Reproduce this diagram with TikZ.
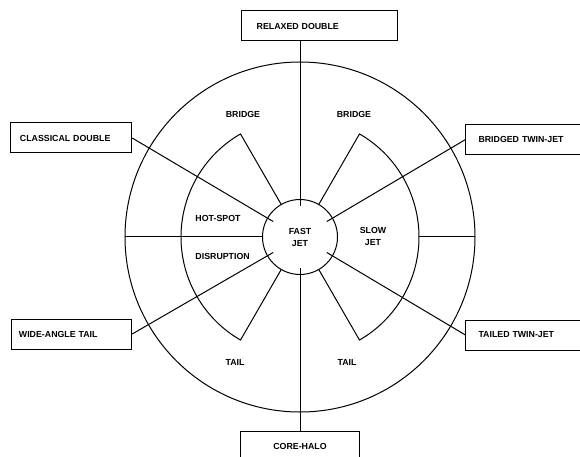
\documentclass[tikz,border=0pt]{standalone}
\usepackage{fontspec}
\setmainfont{Liberation Sans}
\usetikzlibrary{positioning}

\begin{document}
\begin{tikzpicture}[x=1pt,y=1pt,line width=1pt,
    font=\fontsize{8.8}{12}\selectfont\bfseries,
    typebox/.style={draw,minimum height=30pt,inner ysep=0pt,align=left},
    zone/.style={align=center,inner sep=0pt}]
  \useasboundingbox (-300,-220) rectangle (280,237);

  % outer ring, lobes and dividers
  \draw (0,0) circle[radius=175];
  \draw (120:37) -- (120:119) arc[start angle=120,end angle=240,radius=119] -- (240:37);
  \draw (60:37) -- (60:119) arc[start angle=60,end angle=-60,radius=119] -- (-60:37);
  \draw (180:175) -- (180:37);
  \draw (0:119) -- (0:175);

  \node[draw,circle,minimum size=75pt,inner sep=0pt,align=center] (fast) at (0,0) {FAST\\JET};

  \coordinate (jet-n)  at (90:31);
  \coordinate (jet-s)  at (270:31);
  \coordinate (jet-nw) at (150:31);
  \coordinate (jet-ne) at (30:31);
  \coordinate (jet-sw) at (210:31);
  \coordinate (jet-se) at (-30:31);

  \node[zone]             (bridgel)    at (-57,123)  {BRIDGE};
  \node[zone]             (bridger)    at (54,123)   {BRIDGE};
  \node[zone,anchor=west] (hotspot)    at (-105,19)  {HOT-SPOT};
  \node[zone,anchor=west] (disruption) at (-105,-19) {DISRUPTION};
  \node[zone]             (slow)       at (73,1)     {SLOW\\JET};
  \node[zone]             (taill)      at (-65,-125) {TAIL};
  \node[zone]             (tailr)      at (47,-125)  {TAIL};

  \node[typebox,inner xsep=15.7pt,text width=124.6pt] (relaxed)   at (19,211)     {RELAXED DOUBLE};
  \node[typebox,inner xsep=9pt,text width=102.7pt]    (classical) at (-228.7,99)  {CLASSICAL DOUBLE};
  \node[typebox,inner xsep=7.3pt,text width=105.4pt]  (wide)      at (-228.3,-97) {WIDE-ANGLE TAIL};
  \node[typebox,inner xsep=12.6pt,text width=99pt]    (bridged)   at (228,97.4)   {BRIDGED TWIN-JET};
  \node[typebox,inner xsep=12.6pt,text width=99pt]    (tailed)    at (228,-98)    {TAILED TWIN-JET};
  \node[typebox,minimum width=118.3pt]                (corehalo)  at (0,-209.7)   {CORE-HALO};

  \path (relaxed.south -| fast) edge (jet-n);
  \path (jet-s)                 edge (corehalo);
  \path (classical.east)        edge (jet-nw);
  \path (bridged.west)          edge (jet-ne);
  \path (wide.east)             edge (jet-sw);
  \path (tailed.west)           edge (jet-se);
\end{tikzpicture}
\end{document}
